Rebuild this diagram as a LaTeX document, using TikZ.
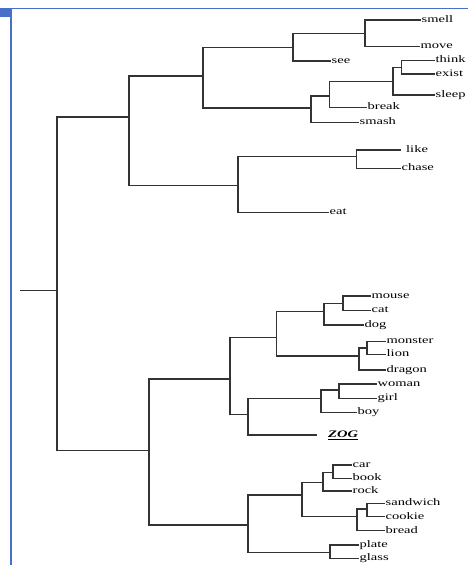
\documentclass[tikz,border=0pt]{standalone}
\usepackage{fontspec}
\setmainfont{Liberation Serif}[FakeStretch=1.45]
\usepackage{tikz}
\definecolor{frameblue}{RGB}{72,112,200}

\begin{document}
\begin{tikzpicture}[x=1pt,y=-1pt,
    branch/.style={draw=black!80,line width=1.1pt},
    leaf/.style={anchor=west,inner sep=0.5pt,text height=1ex,text depth=0pt,
      font=\fontsize{10}{12}\selectfont}]
  \useasboundingbox (0,0) rectangle (468,565);
  % Rahmen
  \fill[frameblue] (0,8) rectangle (10,17);
  \draw[frameblue,line width=1pt] (10,8.5)--(468,8.5);
  \draw[frameblue,line width=1.3pt] (11,8)--(11,565);
  % Verzweigungspunkte
  \coordinate (start) at (20,290.7);
  \foreach \name/\x/\y in {R/57/290.7,V/129/117,A/203/76,B/293/47.7,B1/365/33.3,
      C/311/108,C1/329.7/96,C2/393/81.7,C3/401.7/67.3,E/238/185.7,E1/356.7/156.7,
      N/149/450.7,P/230/379,P1/276.7/337.3,P11/324/311.7,P111/343/303.3,
      P12/359/356,P121/367/348,P2/248/414.3,P21/321/398.3,P211/339/390,
      Q/248/525,Q1/302/495,Q11/323/482.7,Q111/333/472.3,Q12/357/516.7,
      Q121/367/509,Q2/330/552.7}
    \coordinate (\name) at (\x,\y);
  % Blaetter
  \foreach \name/\x/\y/\txt in {smell/421/20/smell,move/420/46.7/move,see/331/61/see,
      think/435/60.7/think,exist/435/74/exist,sleep/435/95/sleep,
      break/367/107.7/break,smash/359/122.3/smash,chase/401/168.3/chase,
      eat/329/212.7/eat,mouse/371/296/mouse,cat/371/310.7/cat,dog/364/325/dog,
      monster/386/341.7/monster,lion/386/354.3/lion,dragon/386/370/dragon,
      woman/377/384/woman,girl/377/398.3/girl,boy/357/412.3/boy,
      car/352/465/car,book/352/478.3/book,rock/352/491/rock,
      sandwich/385/503.3/sandwich,cookie/385/516.7/cookie,bread/385/530.7/bread,
      plate/359/545/plate,glass/359/558.3/glass}
    \node[leaf] (\name) at (\x,\y) {\txt};
  \node[leaf,inner xsep=5pt] (like) at (401,150) {like};
  \node[leaf,inner xsep=11pt] (zog) at (317,435) {\textbf{\textit{\underline{ZOG}}}};
  % Aeste
  \draw[branch] (start)--(R);
  \foreach \a/\b in {R/V,R/N,V/A,V/E,A/B,A/C,B/B1,B/see,B1/smell,B1/move,
      C/C1,C/smash,C1/C2,C1/break,C2/C3,C2/sleep,C3/think,C3/exist,
      E/E1,E/eat,E1/like,E1/chase,
      N/P,N/Q,P/P1,P/P2,P1/P11,P1/P12,P11/P111,P11/dog,P111/mouse,P111/cat,
      P12/P121,P12/dragon,P121/monster,P121/lion,P2/P21,P2/zog,P21/P211,
      P21/boy,P211/woman,P211/girl,Q/Q1,Q/Q2,Q1/Q11,Q1/Q12,Q11/Q111,Q11/rock,
      Q111/car,Q111/book,Q12/Q121,Q12/bread,Q121/sandwich,Q121/cookie,
      Q2/plate,Q2/glass}
    \draw[branch] (\a) |- (\b);
\end{tikzpicture}
\end{document}
